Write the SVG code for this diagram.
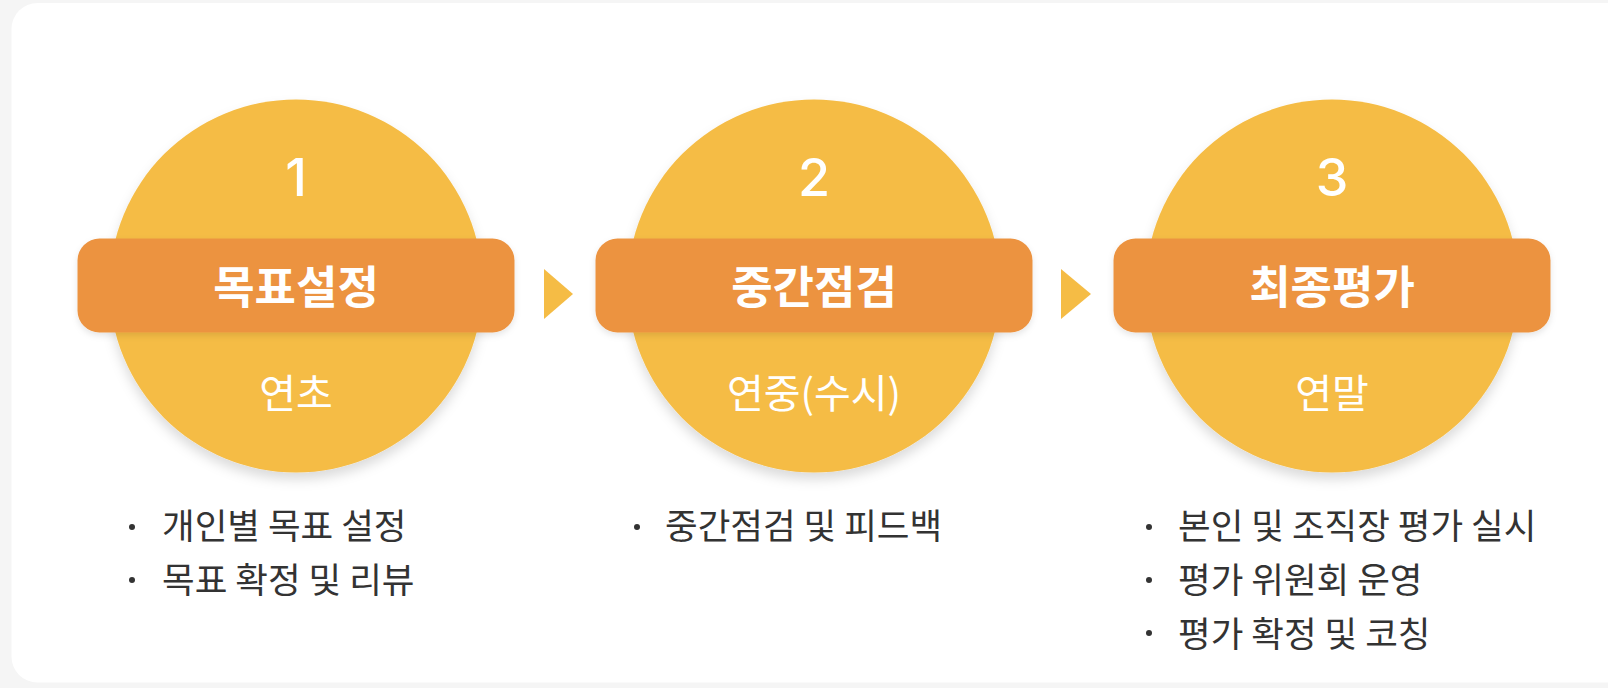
<svg xmlns="http://www.w3.org/2000/svg" width="1608" height="688" viewBox="0 0 1608 688">
  <defs>
    <filter id="circleShadow" x="-20%" y="-20%" width="140%" height="150%">
      <feDropShadow dx="0" dy="7" stdDeviation="6" flood-color="#000" flood-opacity="0.14"/>
    </filter>
    <filter id="bandShadow" x="-10%" y="-20%" width="120%" height="160%">
      <feDropShadow dx="0" dy="3" stdDeviation="3" flood-color="#000" flood-opacity="0.10"/>
    </filter>
    <style>
      .circle { fill: #F5BC45; filter: url(#circleShadow); }
      .band { fill: #EC9340; filter: url(#bandShadow); }
      .num { font-family: Inter, "Noto Sans", "Noto Sans CJK KR", sans-serif; font-size: 52px; font-weight: 500; fill: #ffffff; text-anchor: middle; dominant-baseline: central; }
      .title { font-family: "Noto Sans CJK KR", sans-serif; font-size: 45px; font-weight: 700; fill: #ffffff; text-anchor: middle; dominant-baseline: central; }
      .sub { font-family: "Noto Sans CJK KR", sans-serif; font-size: 40px; font-weight: 400; fill: #ffffff; text-anchor: middle; dominant-baseline: central; }
      .item { font-family: "Noto Sans CJK KR", sans-serif; font-size: 35.5px; font-weight: 400; fill: #333333; dominant-baseline: central; }
      .dot { fill: #333333; }
      .arrow { fill: #F5BC45; }
    </style>
  </defs>

  <rect x="0" y="0" width="1608" height="688" fill="#F5F5F5"/>
  <rect x="11.5" y="3" width="1620" height="679.5" rx="26" ry="26" fill="#FFFFFF"/>

  <g id="connectors">
    <polygon class="arrow" points="544,269 573,294 544,319"/>
    <polygon class="arrow" points="1061,269 1091,294 1061,319"/>
  </g>

  <g id="step1">
    <circle class="circle" cx="296" cy="286" r="186.5"/>
    <text class="num" x="296" y="177">1</text>
    <rect class="band" x="77.5" y="238.5" width="437" height="94" rx="22" ry="22"/>
    <text class="title" x="296" y="284">목표설정</text>
    <text class="sub" x="296" y="391">연초</text>
  </g>

  <g id="step2">
    <circle class="circle" cx="814" cy="286" r="186.5"/>
    <text class="num" x="814" y="177">2</text>
    <rect class="band" x="595.5" y="238.5" width="437" height="94" rx="22" ry="22"/>
    <text class="title" x="814" y="284">중간점검</text>
    <text class="sub" x="814" y="391">연중(수시)</text>
  </g>

  <g id="step3">
    <circle class="circle" cx="1332" cy="286" r="186.5"/>
    <text class="num" x="1332" y="177">3</text>
    <rect class="band" x="1113.5" y="238.5" width="437" height="94" rx="22" ry="22"/>
    <text class="title" x="1332" y="284">최종평가</text>
    <text class="sub" x="1332" y="391">연말</text>
  </g>

  <g id="list1">
    <circle class="dot" cx="132" cy="527" r="3"/>
    <text class="item" x="162" y="523">개인별 목표 설정</text>
    <circle class="dot" cx="132" cy="580" r="3"/>
    <text class="item" x="162" y="577">목표 확정 및 리뷰</text>
  </g>

  <g id="list2">
    <circle class="dot" cx="637" cy="527" r="3"/>
    <text class="item" x="665" y="523">중간점검 및 피드백</text>
  </g>

  <g id="list3">
    <circle class="dot" cx="1149" cy="527" r="3"/>
    <text class="item" x="1178" y="523.5">본인 및 조직장 평가 실시</text>
    <circle class="dot" cx="1149" cy="580" r="3"/>
    <text class="item" x="1178" y="577.5">평가 위원회 운영</text>
    <circle class="dot" cx="1149" cy="633" r="3"/>
    <text class="item" x="1178" y="631">평가 확정 및 코칭</text>
  </g>
</svg>
